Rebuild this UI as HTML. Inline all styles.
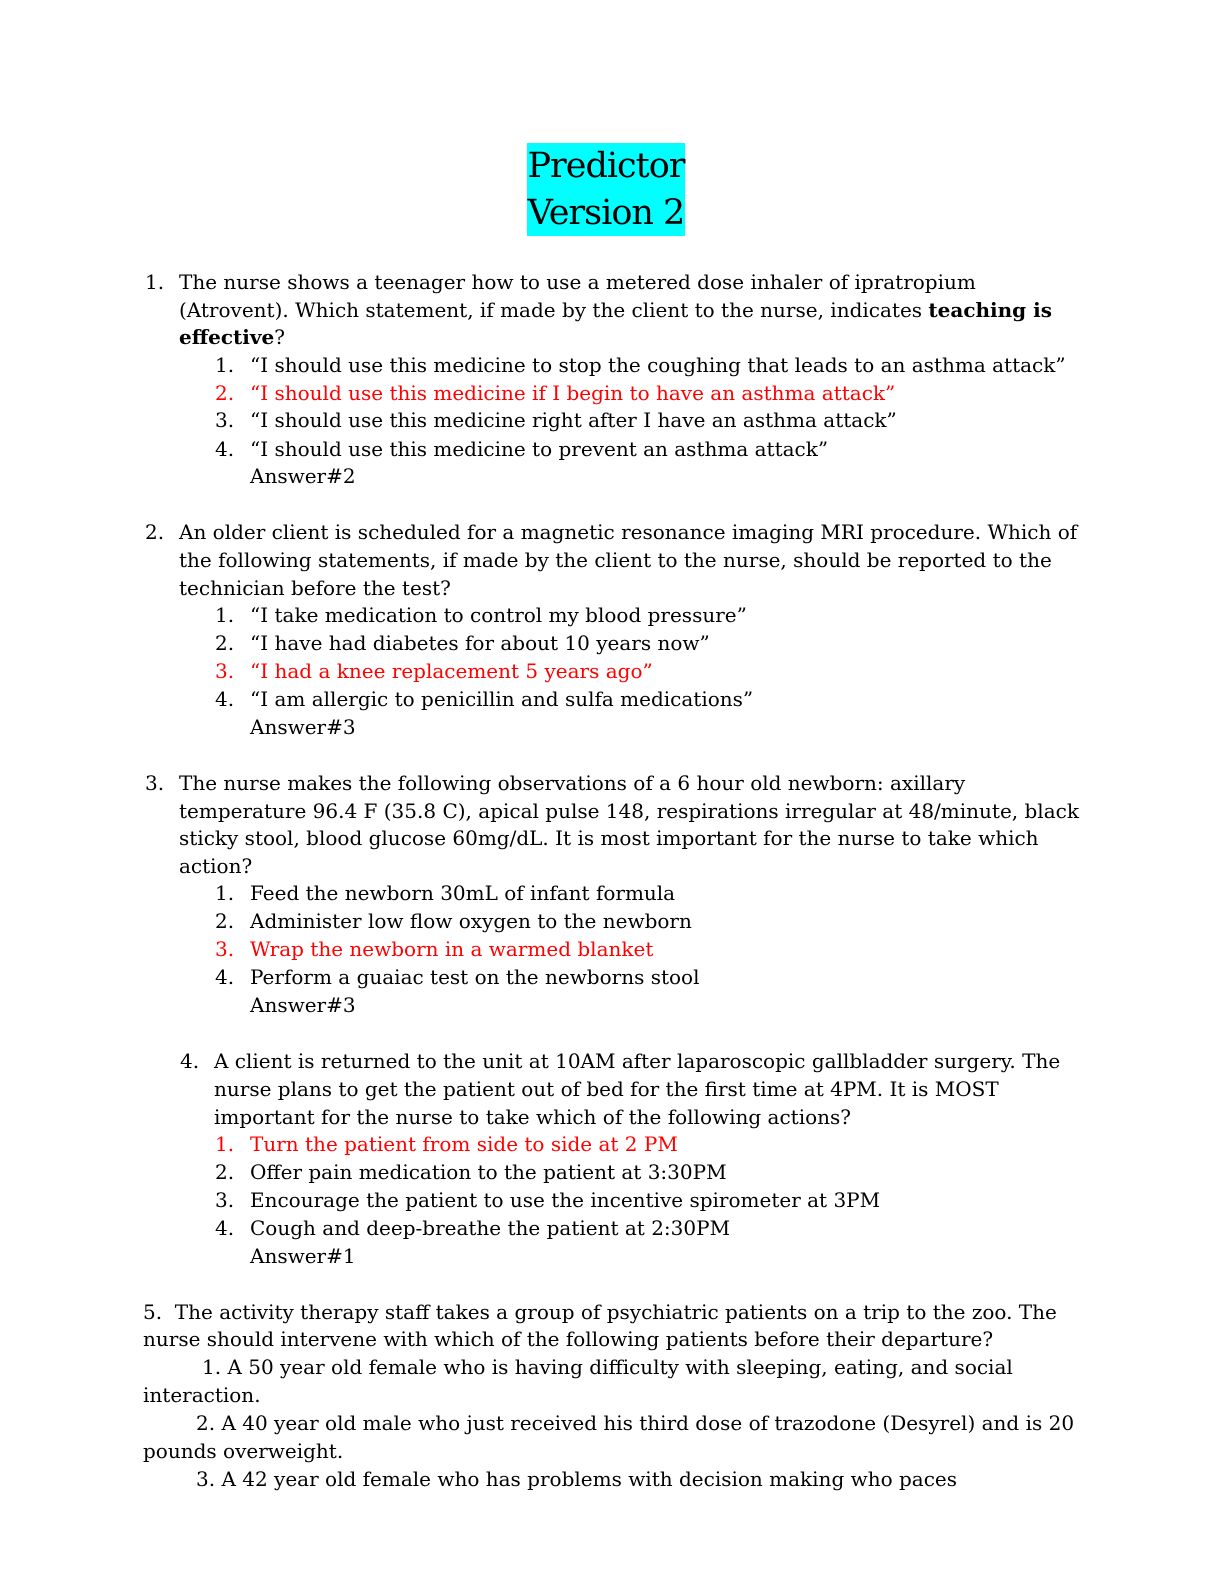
<!DOCTYPE html>
<html><head><meta charset="utf-8"><style>
body{margin:0;width:1224px;height:1584px;background:#fff;position:relative;font-family:"DejaVu Serif","Liberation Serif",serif;}
.l{position:absolute;font-size:20px;letter-spacing:0px;line-height:28px;white-space:nowrap;color:#000;margin-top:3px;}
.r{color:#f00;}
.t{position:absolute;left:527px;top:143px;width:158px;height:93px;background:#00ffff;font-size:35px;line-height:47px;text-align:center;letter-spacing:-1px;white-space:nowrap;}
</style></head><body>
<div class="t">Predictor<br>Version 2</div>

<div class="l" style="left:145px;top:265px">1.</div>
<div class="l" style="left:179px;top:265px">The nurse shows a teenager how to use a metered dose inhaler of ipratropium</div>
<div class="l" style="left:179px;top:293px">(Atrovent). Which statement, if made by the client to the nurse, indicates <b>teaching is</b></div>
<div class="l" style="left:179px;top:320px"><b>effective</b>?</div>
<div class="l" style="left:215px;top:348px">1.</div><div class="l" style="left:250px;top:348px">“I should use this medicine to stop the coughing that leads to an asthma attack”</div>
<div class="l r" style="left:215px;top:376px">2.</div><div class="l r" style="left:250px;top:376px">“I should use this medicine if I begin to have an asthma attack”</div>
<div class="l" style="left:215px;top:403px">3.</div><div class="l" style="left:250px;top:403px">“I should use this medicine right after I have an asthma attack”</div>
<div class="l" style="left:215px;top:432px">4.</div><div class="l" style="left:250px;top:432px">“I should use this medicine to prevent an asthma attack”</div>
<div class="l" style="left:250px;top:459px">Answer#2</div>

<div class="l" style="left:145px;top:515px">2.</div>
<div class="l" style="left:179px;top:515px">An older client is scheduled for a magnetic resonance imaging MRI procedure. Which of</div>
<div class="l" style="left:179px;top:543px">the following statements, if made by the client to the nurse, should be reported to the</div>
<div class="l" style="left:179px;top:571px">technician before the test?</div>
<div class="l" style="left:215px;top:598px">1.</div><div class="l" style="left:250px;top:598px">“I take medication to control my blood pressure”</div>
<div class="l" style="left:215px;top:626px">2.</div><div class="l" style="left:250px;top:626px">“I have had diabetes for about 10 years now”</div>
<div class="l r" style="left:215px;top:654px">3.</div><div class="l r" style="left:250px;top:654px">“I had a knee replacement 5 years ago”</div>
<div class="l" style="left:215px;top:682px">4.</div><div class="l" style="left:250px;top:682px">“I am allergic to penicillin and sulfa medications”</div>
<div class="l" style="left:250px;top:710px">Answer#3</div>

<div class="l" style="left:145px;top:766px">3.</div>
<div class="l" style="left:179px;top:766px">The nurse makes the following observations of a 6 hour old newborn: axillary</div>
<div class="l" style="left:179px;top:794px">temperature 96.4 F (35.8 C), apical pulse 148, respirations irregular at 48/minute, black</div>
<div class="l" style="left:179px;top:821px">sticky stool, blood glucose 60mg/dL. It is most important for the nurse to take which</div>
<div class="l" style="left:179px;top:849px">action?</div>
<div class="l" style="left:215px;top:876px">1.</div><div class="l" style="left:250px;top:876px">Feed the newborn 30mL of infant formula</div>
<div class="l" style="left:215px;top:904px">2.</div><div class="l" style="left:250px;top:904px">Administer low flow oxygen to the newborn</div>
<div class="l r" style="left:215px;top:932px">3.</div><div class="l r" style="left:250px;top:932px">Wrap the newborn in a warmed blanket</div>
<div class="l" style="left:215px;top:960px">4.</div><div class="l" style="left:250px;top:960px">Perform a guaiac test on the newborns stool</div>
<div class="l" style="left:250px;top:988px">Answer#3</div>

<div class="l" style="left:180px;top:1044px">4.</div>
<div class="l" style="left:214px;top:1044px">A client is returned to the unit at 10AM after laparoscopic gallbladder surgery. The</div>
<div class="l" style="left:214px;top:1072px">nurse plans to get the patient out of bed for the first time at 4PM. It is MOST</div>
<div class="l" style="left:214px;top:1100px">important for the nurse to take which of the following actions?</div>
<div class="l r" style="left:215px;top:1127px">1.</div><div class="l r" style="left:250px;top:1127px">Turn the patient from side to side at 2 PM</div>
<div class="l" style="left:215px;top:1155px">2.</div><div class="l" style="left:250px;top:1155px">Offer pain medication to the patient at 3:30PM</div>
<div class="l" style="left:215px;top:1183px">3.</div><div class="l" style="left:250px;top:1183px">Encourage the patient to use the incentive spirometer at 3PM</div>
<div class="l" style="left:215px;top:1211px">4.</div><div class="l" style="left:250px;top:1211px">Cough and deep-breathe the patient at 2:30PM</div>
<div class="l" style="left:250px;top:1239px">Answer#1</div>

<div class="l" style="left:143px;top:1295px">5.&nbsp; The activity therapy staff takes a group of psychiatric patients on a trip to the zoo. The</div>
<div class="l" style="left:143px;top:1322px">nurse should intervene with which of the following patients before their departure?</div>
<div class="l" style="left:202px;top:1350px">1. A 50 year old female who is having difficulty with sleeping, eating, and social</div>
<div class="l" style="left:143px;top:1378px">interaction.</div>
<div class="l" style="left:196px;top:1406px">2. A 40 year old male who just received his third dose of trazodone (Desyrel) and is 20</div>
<div class="l" style="left:143px;top:1434px">pounds overweight.</div>
<div class="l" style="left:196px;top:1462px">3. A 42 year old female who has problems with decision making who paces</div>
</body></html>
